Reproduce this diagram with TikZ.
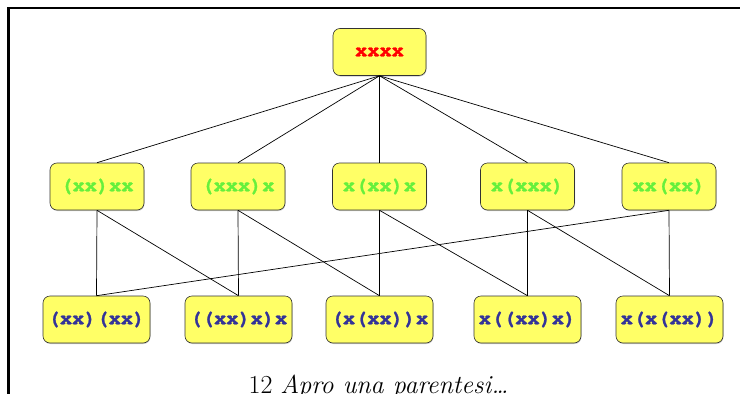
\documentclass[tikz,border=0pt]{standalone}
\usepackage{fontspec}
\newfontfamily\boxfont{TeX Gyre Cursor}[BoldFeatures={FakeBold=1.2}]
\usetikzlibrary{shadows}
\definecolor{boxfill}{HTML}{FFFF66}
\definecolor{topred}{HTML}{FF0000}
\definecolor{midgreen}{HTML}{66F03C}
\definecolor{lowblue}{HTML}{333399}
\tikzset{
  term/.style={draw=black!80, line width=0.6pt, fill=boxfill, rounded corners=7pt,
    minimum height=47pt, inner sep=0pt,
    drop shadow={shadow xshift=0.5pt, shadow yshift=-1pt, fill=black!40},
    font=\boxfont\bfseries\fontsize{20.3}{23}\selectfont},
  topterm/.style={term, minimum width=93pt, text=topred},
  midterm/.style={term, minimum width=94pt, text=midgreen},
  lowterm/.style={term, minimum width=107pt, text=lowblue},
  link/.style={draw=black, line width=0.7pt},
}
\begin{document}
\begin{tikzpicture}[x=1pt,y=-1pt]
\useasboundingbox (0,0) rectangle (740,394);
% frame rules along the top and the left side
\draw[line width=2.6pt] (8.5,394) -- (8.5,8) -- (740,8);

% the four-factor product
\node[topterm] (t) at (379.5,52) {xxxx};

% one pair of brackets
\node[midterm] (m1) at (97,186.5) {(xx)xx};
\node[midterm] (m2) at (238,186.5) {(xxx)x};
\node[midterm] (m3) at (379.5,186.5) {x(xx)x};
\node[midterm] (m4) at (527.5,186.5) {x(xxx)};
\node[midterm] (m5) at (669,186.5) {xx(xx)};

% full bracketings
\node[lowterm] (b1) at (96.5,319.5) {(xx)(xx)};
\node[lowterm] (b2) at (238.5,319.5) {((xx)x)x};
\node[lowterm] (b3) at (379.5,319.5) {(x(xx))x};
\node[lowterm] (b4) at (527.5,319.5) {x((xx)x)};
\node[lowterm] (b5) at (669.5,319.5) {x(x(xx))};

% connectors
\foreach \m in {m1,m2,m3,m4,m5}
  \draw[link] (t.south) -- (\m.north);
\draw[link] (m1.south) -- (b1.north);
\draw[link] (m1.south) -- (b2.north);
\draw[link] (m2.south) -- (b2.north);
\draw[link] (m2.south) -- (b3.north);
\draw[link] (m3.south) -- (b3.north);
\draw[link] (m3.south) -- (b4.north);
\draw[link] (m4.south) -- (b4.north);
\draw[link] (m4.south) -- (b5.north);
\draw[link] (m5.south) -- (b5.north);
\draw[link] (m5.south) -- (b1.north);

% caption
\node[anchor=base, inner sep=0pt, font=\fontsize{26}{30}\selectfont] (cap) at (378.5,393.5)
  {12 \textit{Apro una parentesi\dots}};
\end{tikzpicture}
\end{document}
